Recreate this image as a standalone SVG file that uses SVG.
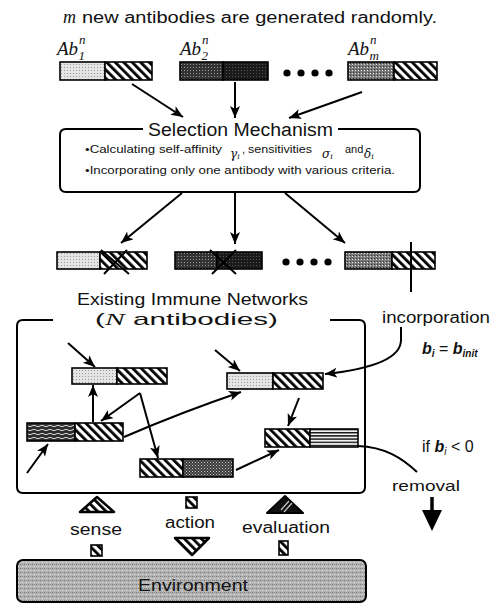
<svg xmlns="http://www.w3.org/2000/svg" width="499" height="604" viewBox="0 0 499 604">
<defs>
<pattern id="hatch" width="6" height="6" patternUnits="userSpaceOnUse" patternTransform="rotate(-45)"><rect width="6" height="6" fill="#fff"/><rect width="2.8" height="6" fill="#000"/></pattern>
<pattern id="dl" width="3" height="3" patternUnits="userSpaceOnUse"><rect width="3" height="3" fill="#e4e4e4"/><rect x="1" y="1" width="1" height="1" fill="#999"/></pattern>
<pattern id="dd" width="3" height="3" patternUnits="userSpaceOnUse"><rect width="3" height="3" fill="#333"/><rect x="1" y="1" width="1" height="1" fill="#999"/></pattern>
<pattern id="db" width="3" height="3" patternUnits="userSpaceOnUse"><rect width="3" height="3" fill="#1a1a1a"/><rect x="1" y="1" width="1" height="1" fill="#555"/></pattern>
<pattern id="dg" width="3" height="3" patternUnits="userSpaceOnUse"><rect width="3" height="3" fill="#7a7a7a"/><rect x="1" y="1" width="1" height="1" fill="#ddd"/><rect x="2" y="0" width="1" height="1" fill="#333"/></pattern>
<pattern id="wavy" width="8" height="4" patternUnits="userSpaceOnUse"><rect width="8" height="4" fill="#2a2a2a"/><path d="M0,2 Q2,0.5 4,2 T8,2" fill="none" stroke="#ddd" stroke-width="1"/></pattern>
<pattern id="hs" width="4" height="3.2" patternUnits="userSpaceOnUse"><rect width="4" height="3.2" fill="#f2f2f2"/><rect width="4" height="1.4" fill="#111"/></pattern>
<pattern id="cf" width="3" height="3" patternUnits="userSpaceOnUse"><rect width="3" height="3" fill="#3a3a3a"/><rect x="0" y="0" width="1" height="1" fill="#ccc"/><rect x="1.5" y="1.5" width="1" height="1" fill="#aaa"/></pattern>
<pattern id="env" width="4" height="4" patternUnits="userSpaceOnUse"><rect width="4" height="4" fill="#b4b4b4"/><rect x="0" y="0" width="1" height="1" fill="#777"/><rect x="2" y="2" width="1" height="1" fill="#e6e6e6"/><rect x="2" y="0" width="1" height="1" fill="#8a8a8a"/></pattern>
<marker id="ah" markerUnits="userSpaceOnUse" markerWidth="13" markerHeight="11" refX="12" refY="5" orient="auto"><path d="M0,0 L12,5 L0,10 L3,5 z" fill="#000"/></marker>
</defs>
<style>
.t{font-family:"Liberation Sans",Arial,sans-serif;fill:#111}
.ab{font-family:"Liberation Serif","Times New Roman",serif;font-style:italic;fill:#111}
.gk{font-family:"DejaVu Serif","Liberation Serif",serif;font-style:italic;fill:#111;font-size:12px}
.seg{stroke:#000;stroke-width:1.6}
.c{fill:none;stroke:#000;stroke-width:2}
.box{fill:none;stroke:#000;stroke-width:2}
</style>

<text class="t" font-size="16" y="23"><tspan class="ab" x="63" font-size="18">m</tspan><tspan x="82" textLength="355" lengthAdjust="spacingAndGlyphs">new antibodies are generated randomly.</tspan></text>

<g id="ab1">
<text class="ab" x="57" y="55" font-size="19">Ab<tspan font-size="13" dy="-11" dx="1">n</tspan><tspan font-size="13" dx="-7" dy="16">1</tspan></text>
<rect class="seg" x="60" y="62" width="45" height="18" fill="url(#dl)"/>
<rect class="seg" x="105" y="62" width="47" height="18" fill="url(#hatch)"/>
</g>
<g id="ab2">
<text class="ab" x="180" y="55" font-size="19">Ab<tspan font-size="13" dy="-11" dx="1">n</tspan><tspan font-size="13" dx="-7" dy="16">2</tspan></text>
<rect class="seg" x="180" y="62" width="43" height="18" fill="url(#dd)"/>
<rect class="seg" x="223" y="62" width="45" height="18" fill="url(#db)"/>
</g>
<g id="dots1" fill="#000"><circle cx="287" cy="73" r="3.6"/><circle cx="301" cy="73" r="3.6"/><circle cx="315" cy="73" r="3.6"/><circle cx="329" cy="73" r="3.6"/></g>
<g id="abm">
<text class="ab" x="348" y="55" font-size="19">Ab<tspan font-size="13" dy="-11" dx="1">n</tspan><tspan font-size="13" dx="-7" dy="16">m</tspan></text>
<rect class="seg" x="348" y="62" width="46" height="18" fill="url(#dg)"/>
<rect class="seg" x="394" y="62" width="43" height="18" fill="url(#hatch)"/>
</g>

<g id="selection">
<path class="box" d="M143,129 L66,129 Q60,129 60,135 L60,186 Q60,192 66,192 L414,192 Q420,192 420,186 L420,135 Q420,129 414,129 L338,129"/>
<text class="t" x="148" y="136" font-size="18" textLength="185" lengthAdjust="spacingAndGlyphs">Selection Mechanism</text>
<text class="t" font-size="11" x="85" y="153" textLength="137" lengthAdjust="spacingAndGlyphs">•Calculating self-affinity</text>
<text class="gk" x="230" y="158">γ<tspan font-size="8" dy="1">i</tspan></text>
<text class="t" font-size="11" x="242" y="153">,</text>
<text class="t" font-size="11" x="248" y="153" textLength="64" lengthAdjust="spacingAndGlyphs">sensitivities</text>
<text class="gk" x="322" y="158">σ<tspan font-size="8" dy="1">i</tspan></text>
<text class="t" font-size="11" x="345" y="153">and</text>
<text class="gk" x="364" y="158">δ<tspan font-size="8" dy="1">i</tspan></text>
<text class="t" font-size="11" x="85" y="174" textLength="310" lengthAdjust="spacingAndGlyphs">•Incorporating only one antibody with various criteria.</text>
</g>

<g id="cand1">
<rect class="seg" x="57" y="252" width="43" height="17" fill="url(#dl)"/>
<rect class="seg" x="100" y="252" width="47" height="17" fill="url(#hatch)"/>
<path d="M101,250 L129,274 M104,274 L127,250" stroke="#000" stroke-width="2" fill="none"/>
</g>
<g id="cand2">
<rect class="seg" x="175" y="252" width="42" height="17" fill="url(#dd)"/>
<rect class="seg" x="217" y="252" width="45" height="17" fill="url(#db)"/>
<path d="M210,250 L236,274 M212,274 L236,250" stroke="#000" stroke-width="2" fill="none"/>
</g>
<g id="dots2" fill="#000"><circle cx="286" cy="262" r="3.6"/><circle cx="300" cy="262" r="3.6"/><circle cx="314" cy="262" r="3.6"/><circle cx="328" cy="262" r="3.6"/></g>
<g id="cand3">
<rect class="seg" x="345" y="252" width="47" height="17" fill="url(#dg)"/>
<rect class="seg" x="392" y="252" width="43" height="17" fill="url(#hatch)"/>
</g>

<g id="network">
<path class="box" d="M53,320 L23,320 Q17,320 17,326 L17,487 Q17,493 23,493 L359,493 Q365,493 365,487 L365,326 Q365,320 359,320 L330,320"/>
<text class="t" x="77" y="305" font-size="17" textLength="231" lengthAdjust="spacingAndGlyphs">Existing Immune Networks</text>
<text class="t" x="95" y="325" font-size="17" textLength="183" lengthAdjust="spacingAndGlyphs">(<tspan font-family="Liberation Serif" font-style="italic">N</tspan> antibodies)</text>
</g>
<g id="nodeA">
<rect class="seg" x="72" y="368" width="45" height="16" fill="url(#dl)"/>
<rect class="seg" x="117" y="368" width="50" height="16" fill="url(#hatch)"/>
</g>
<g id="nodeB">
<rect class="seg" x="227" y="373" width="46" height="16" fill="url(#dl)"/>
<rect class="seg" x="273" y="373" width="50" height="16" fill="url(#hatch)"/>
</g>
<g id="nodeC">
<rect class="seg" x="27" y="423" width="48" height="18" fill="url(#wavy)"/>
<rect class="seg" x="75" y="423" width="48" height="18" fill="url(#hatch)"/>
</g>
<g id="nodeD">
<rect class="seg" x="140" y="459" width="43" height="18" fill="url(#hatch)"/>
<rect class="seg" x="183" y="459" width="50" height="18" fill="url(#cf)"/>
</g>
<g id="nodeE">
<rect class="seg" x="265" y="429" width="45" height="18" fill="url(#hatch)"/>
<rect class="seg" x="310" y="429" width="48" height="18" fill="url(#hs)"/>
</g>

<g id="labels-right">
<text class="t" x="382" y="323" font-size="16" textLength="108" lengthAdjust="spacingAndGlyphs">incorporation</text>
<text class="t" x="422" y="354" font-size="16" font-style="italic" font-weight="bold">b<tspan font-size="10" dy="3">i</tspan><tspan dy="-3" font-style="normal" font-weight="normal"> = </tspan>b<tspan font-size="10" dy="3">init</tspan></text>
<text class="t" x="422" y="452" font-size="16">if  <tspan font-style="italic" font-weight="bold">b</tspan><tspan font-size="10" dy="3" font-style="italic">i</tspan><tspan dy="-3"> &lt; 0</tspan></text>
<text class="t" x="392" y="491" font-size="15" textLength="68" lengthAdjust="spacingAndGlyphs">removal</text>
</g>

<g id="connectors">
<path class="c" d="M132,84 L183,117" marker-end="url(#ah)"/>
<path class="c" d="M235,82 L235,118" marker-end="url(#ah)"/>
<path class="c" d="M362,92 L289,118" marker-end="url(#ah)"/>
<path class="c" d="M182,193 L121,243" marker-end="url(#ah)"/>
<path class="c" d="M235,193 L235,244" marker-end="url(#ah)"/>
<path class="c" d="M285,193 L345,243" marker-end="url(#ah)"/>
<path class="c" d="M411,242 L411,292"/>
<path class="c" d="M401,327 L401,340 C401,358 372,369 325,374" marker-end="url(#ah)"/>
<path class="c" d="M68,343 L95,367" marker-end="url(#ah)"/>
<path class="c" d="M215,350 L240,371" marker-end="url(#ah)"/>
<path class="c" d="M93,422 L93,385" marker-end="url(#ah)"/>
<path class="c" d="M140,393 L101,421" marker-end="url(#ah)"/>
<path class="c" d="M140,393 L158,458" marker-end="url(#ah)"/>
<path class="c" d="M124,437 Q182,412 241,392" marker-end="url(#ah)"/>
<path class="c" d="M27,473 L48,444" marker-end="url(#ah)"/>
<path class="c" d="M299,398 L288,426" marker-end="url(#ah)"/>
<path class="c" d="M236,470 L279,450" marker-end="url(#ah)"/>
<path class="c" d="M358,446 C385,447 402,458 417,472"/>
<path d="M432,497 L432,514" stroke="#000" stroke-width="3.5"/>
<path d="M422,510 L442,510 L432,531 z" fill="#000"/>
</g>

<g id="sense">
<path d="M97,497 L114,512 L80,512 z" fill="url(#hatch)" stroke="#000" stroke-width="2.5" stroke-linejoin="round"/>
<text class="t" x="70" y="535" font-size="16" textLength="52" lengthAdjust="spacingAndGlyphs">sense</text>
<rect x="91" y="545" width="11" height="11" fill="url(#hatch)" stroke="#000" stroke-width="1.6"/>
</g>
<g id="action">
<rect x="186" y="497" width="11" height="11" fill="url(#hatch)" stroke="#000" stroke-width="1.6"/>
<text class="t" x="165" y="528" font-size="16" textLength="50" lengthAdjust="spacingAndGlyphs">action</text>
<path d="M175,538 L209,538 L192,555 z" fill="url(#hatch)" stroke="#000" stroke-width="2.5" stroke-linejoin="round"/>
</g>
<g id="evaluation">
<path d="M285,496 L303,513 L267,513 z" fill="#111" stroke="#000" stroke-width="2" stroke-linejoin="round"/>
<path d="M281,510 L289,501 M284,512 L292,503" stroke="#ccc" stroke-width="1.2"/>
<text class="t" x="242" y="533" font-size="16" textLength="88" lengthAdjust="spacingAndGlyphs">evaluation</text>
<rect x="279" y="541" width="9" height="14" fill="url(#hatch)" stroke="#000" stroke-width="1.6"/>
</g>

<g id="environment">
<rect x="17" y="560" width="349" height="42" rx="6" fill="url(#env)" stroke="#000" stroke-width="2"/>
<text class="t" x="138" y="591" font-size="17" textLength="110" lengthAdjust="spacingAndGlyphs">Environment</text>
</g>
</svg>
